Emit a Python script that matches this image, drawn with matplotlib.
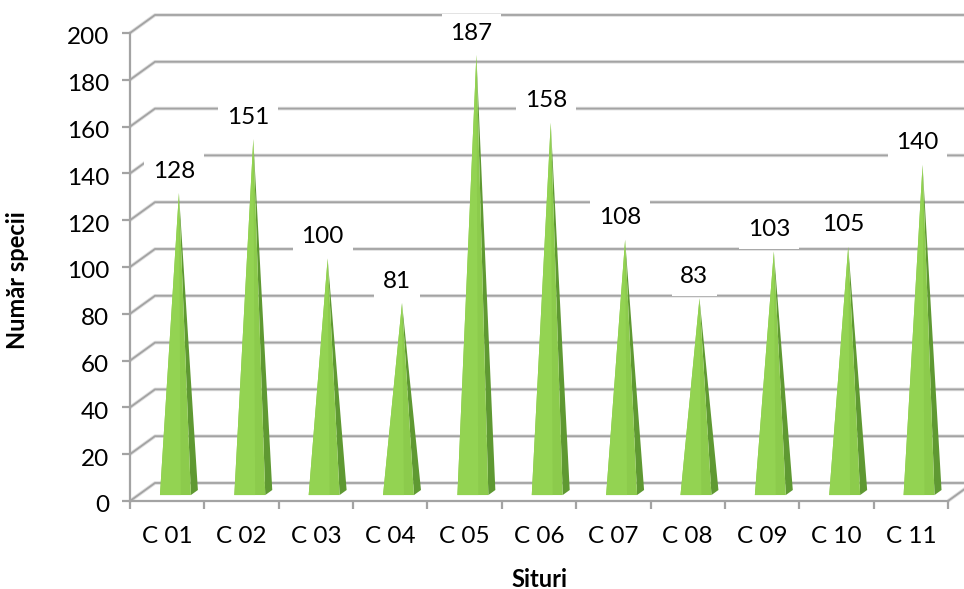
import matplotlib
matplotlib.use("Agg")
import matplotlib.pyplot as plt
import matplotlib.transforms as mtransforms
from matplotlib.patches import Polygon
import numpy as np

# numar de specii pe situri
situri = ["C 01", "C 02", "C 03", "C 04", "C 05", "C 06",
          "C 07", "C 08", "C 09", "C 10", "C 11"]
nr_specii = [128, 151, 100, 81, 187, 158, 108, 83, 103, 105, 140]
y_ticks = [0, 20, 40, 60, 80, 100, 120, 140, 160, 180, 200]

plt.rcParams['font.family'] = ['Lato', 'DejaVu Sans']

W, H = 964, 589
fig = plt.figure(figsize=(W / 100, H / 100), dpi=100)
ax = fig.add_axes([130 / W, (H - 501) / H, (948 - 130) / W, (501 - 33) / H])
n = len(situri)
ax.set_xlim(0, n)
ax.set_ylim(0, 200)

# oblique depth of the 3D box, in data units
dx, dy = 0.336, 7.7
grid_col = "#a3a3a3"
soft_col = "#dedede"


def soft_line(xs, ys, z=1):
    ax.plot(xs, ys, color=soft_col, lw=2.6, clip_on=False, zorder=z,
            solid_capstyle="butt")
    ax.plot(xs, ys, color=grid_col, lw=1.3, clip_on=False, zorder=z + 0.1,
            solid_capstyle="butt")


# left wall diagonals + back wall gridlines
for v in y_ticks:
    soft_line([0, dx, n + dx + 0.3], [v, v + dy, v + dy])

# floor right edge
soft_line([n, n + dx + 0.3], [0, dy * (1 + 0.3 / dx)])

# front axes
for s in ["top", "right"]:
    ax.spines[s].set_visible(False)
for s in ["left", "bottom"]:
    ax.spines[s].set_color(grid_col)
    ax.spines[s].set_linewidth(1.6)
    ax.spines[s].set_zorder(3)
ax.set_facecolor("none")

ax.set_yticks(y_ticks)
ax.set_yticklabels([str(v) for v in y_ticks], fontsize=17.5)
ax.set_xticks(np.arange(n + 1))
ax.set_xticklabels([])
ax.set_xticks(np.arange(n) + 0.5, minor=True)
ax.set_xticklabels(situri, minor=True, fontsize=17.5)
ax.tick_params(axis="y", length=6, width=1.6, color=grid_col, pad=9)
ax.tick_params(axis="x", which="major", length=6, width=1.6, color=grid_col)
ax.tick_params(axis="x", which="minor", length=0, pad=18)

# value labels sit a little below their ticks
shift = mtransforms.ScaledTranslation(0, -3 / 100, fig.dpi_scale_trans)
for lbl in ax.get_yticklabels():
    lbl.set_transform(lbl.get_transform() + shift)

# pyramids
hw = 0.208
z0, z1, zc = 0.33, 0.61, 0.47
for i, v in enumerate(nr_specii):
    c = i + 0.5
    apex = (c + zc * dx, v + zc * dy)
    fl = (c - hw + z0 * dx, z0 * dy)
    fr = (c + hw + z0 * dx, z0 * dy)
    br = (c + hw + z1 * dx, z1 * dy)
    fm = (c + 0.35 * hw + z0 * dx, z0 * dy)
    ax.add_patch(Polygon([br, fr, apex], closed=True, facecolor="#5f9932",
                         edgecolor="none", zorder=4))
    ax.add_patch(Polygon([fl, fr, apex], closed=True, facecolor="#8ccb4c",
                         edgecolor="none", zorder=4))
    ax.add_patch(Polygon([fl, fm, apex], closed=True, facecolor="#93d352",
                         edgecolor="none", zorder=4.1))
    ax.text(c + 0.09, v + 13, str(v), fontsize=17.5, ha="center", va="center",
            zorder=6, bbox=dict(boxstyle="square,pad=0.36", fc="white",
                                ec="none"))

ax.set_xlabel("Situri", fontsize=17, fontweight="bold")
ax.xaxis.set_label_coords(0.5, -0.143)
ax.set_ylabel("Număr specii", fontsize=17, fontweight="bold")
ax.yaxis.set_label_coords(-0.123, 0.472)

fig.savefig("out.png", dpi=100)
